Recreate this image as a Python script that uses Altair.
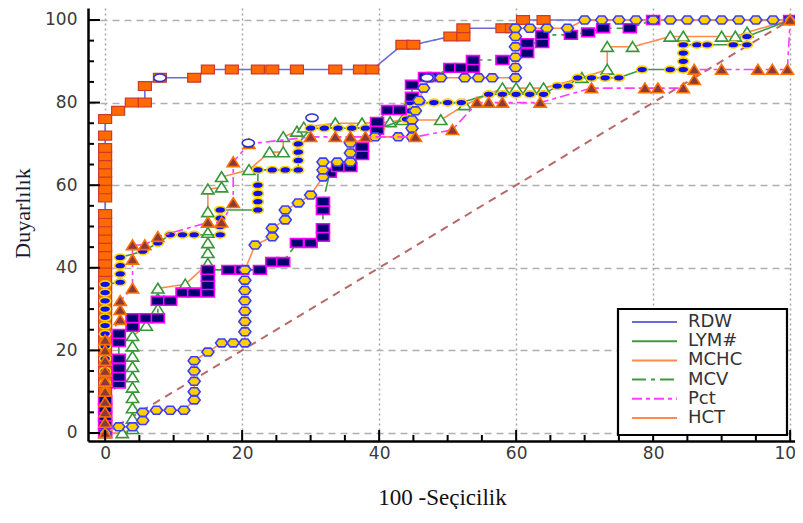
import altair as alt
import pandas as pd

# ---------------- data ----------------
RDW_X = [0, 0, 0, 0, 0, 0, 0, 0, 0, 0, 0, 0, 0, 0, 0, 0, 0, 0, 0, 0, 0, 0, 0, 0, 0,
         0, 0, 0, 0, 0, 0, 0, 0, 0,
         1.9, 3.9, 5.8, 5.8, 8, 13, 15, 18.5, 22.3, 24.4, 28, 33.6, 37.2, 39, 43.4, 45,
         50.4, 52.3, 52.3, 58, 59.4, 61, 64, 100]
RDW_Y = [0, 2.5, 5, 7.5, 10, 12.5, 15, 17.5, 20, 22.5, 25, 27, 29, 31, 33, 35, 37, 39, 41, 43, 45, 47, 49, 51, 53,
         57, 59, 61, 63, 65, 67, 69, 72, 76,
         78, 80, 80, 84, 86, 86, 88, 88, 88, 88, 88, 88, 88, 88, 94, 94,
         96, 96, 98, 98, 98, 100, 100, 100]

LYM_X = [0, 0, 0, 0, 0, 0, 0, 0, 0, 0, 0, 0, 0, 0, 0,
         2.2, 2.2, 2.2, 2.2,
         5.5, 7.7, 9.5, 11.3, 13,
         16.8, 16.8, 16.8, 16.8,
         22.3, 22.3, 22.3, 22.3, 22.3,
         24.4, 26.3, 28.2, 28.2, 28.2, 28.2,
         30, 32, 34, 36, 38, 40,
         44, 44.5, 44.5,
         46, 48, 50, 52,
         56, 58, 60, 62, 64,
         66, 67.6,
         69, 71, 73, 75,
         78.4, 82.5, 84.4, 84.4, 84.4, 84.4,
         86.4, 87.9, 91.7, 93.7, 93.7,
         100]
LYM_Y = [0, 3, 6, 9, 12, 15, 18, 21, 24, 26, 28, 30, 32, 34, 36,
         36.5, 38.5, 40.5, 42.5,
         44, 46, 48, 48, 48,
         48, 50, 52, 54,
         54, 56, 58, 60, 63.7,
         63.7, 63.7, 63.7, 66, 68, 70,
         73.8, 73.8, 73.8, 73.8, 73.8, 73.8,
         76, 78, 80,
         80, 80, 80, 80,
         82, 82, 82, 82, 82,
         84, 84,
         86, 86, 86, 86,
         88, 88, 88, 90, 92, 94,
         94, 94, 94, 94, 96,
         100]

MCHC_X = [0, 2.5, 4, 4, 4, 4, 4, 4, 4, 4, 4, 4,
          6, 7.7, 7.7, 7.7,
          11.7,
          15, 15, 15, 15, 15, 15,
          15, 17, 17,
          21,
          24, 26, 26,
          28, 29,
          33.6, 37.5, 41.6, 43.4, 49,
          52.5,
          58, 60, 62, 64,
          69.6,
          73.3, 73.3, 77,
          82.5, 84.4, 90, 92, 93.7,
          100]
MCHC_Y = [0, 0, 1, 3.5, 6, 8.5, 11, 13.5, 16, 18.5, 21, 23.5,
          26, 30, 32.5, 35,
          36,
          41, 43.6, 46, 48.5, 51, 53.5,
          59, 59.5, 62,
          63.7,
          68, 68, 71.7,
          73, 74,
          75, 75, 75.3, 75.8, 75.8,
          79.4,
          83.5, 83.5, 83.5, 83.5,
          86,
          88, 93.5, 93.5,
          96, 96, 96, 96, 97,
          100]

MCV_X = [0, 0, 0, 0, 0,
         2, 2, 2, 2, 2, 2,
         4, 4, 6, 7.7,
         7.7, 9.5,
         11.3, 13, 15, 15, 15, 15,
         18, 20, 22.6,
         24.4, 26,
         28, 30,
         31.8, 31.8, 31.8, 31.8,
         32.8, 34, 35.8,
         37.5, 37.5,
         39.7, 39.7,
         41.3, 43,
         44.8, 44.8,
         46.7, 47.9,
         50.4, 52, 53.7, 53.7,
         58,
         61.6, 61.6,
         63.8, 63.8,
         68, 70.5,
         72.7, 76.6,
         80, 100]
MCV_Y = [0, 2, 4, 6, 8,
         12, 13.6, 15.7, 18, 22, 24,
         25.7, 27.8, 27.8, 27.8,
         32, 32,
         34, 34, 34, 35.8, 37.8, 39.5,
         39.5, 39.5, 39.5,
         41.4, 41.4,
         46, 46,
         47.5, 49.6, 54, 56,
         63, 64.4, 64.4,
         67.3, 69.3,
         73.4, 75.3,
         78.2, 78.2,
         81.4, 84.3,
         86.2, 86.2,
         88.4, 88.4, 88.4, 90.3,
         90.3,
         92, 94.4,
         94.4, 96.4,
         96.4, 97,
         98, 98,
         100, 100]

PCT_X = [0, 0, 0, 0, 0, 0, 0, 0, 0, 0,
         2.2, 2.2, 2.2,
         4, 4, 4,
         5.8, 7.7,
         15, 17,
         18.7, 18.7,
         21,
         30, 33.6, 35.8, 38,
         45.3,
         50.7,
         54.3, 56, 58, 63.5,
         71, 78.8, 80.7, 84.4,
         86, 86,
         90, 95.3, 97.4, 99.6,
         100]
PCT_Y = [0, 2.5, 5, 7.5, 10, 12.5, 15, 17.5, 20, 22.5,
         27.4, 29.8, 32,
         35, 42, 45.5,
         45.5, 47.5,
         51, 51,
         55.7, 65.6,
         70,
         71.7, 71.7, 71.7, 71.7,
         71.7,
         73.4,
         80, 80, 80, 80,
         83.5, 83.5, 83.5, 83.5,
         85.5, 88,
         88, 88, 88, 88,
         100]

HCT_X = [0, 2, 4, 5.5, 5.5, 7.5, 9.5, 11.5,
         13, 13, 13, 13, 13,
         15, 17, 18.7,
         20.4, 20.4, 20.4, 20.4, 20.4, 20.4, 20.4, 20.4,
         21.9, 24.4, 24.4,
         26.3, 26.3, 28.2, 30,
         31.8, 31.8, 31.8,
         33.9, 35.8, 35.8, 35.8,
         39.4, 42.8,
         44.8, 44.8, 44.8,
         45.3, 45.8, 46.5,
         47.4, 49, 52.5, 54.5, 56.5,
         59.9, 59.9, 59.9, 59.9, 59.9, 59.9,
         62, 64.5, 67.5,
         70, 72.5, 75, 77.5, 80, 82.5, 85, 87.5, 90, 92.5, 95, 97.5, 100]
HCT_Y = [0, 1.5, 1.5, 3, 5, 5.5, 5.5, 5.5,
         8, 10, 12.5, 15, 17.5,
         19.6, 21.8, 21.8,
         21.8, 24.5, 27, 29.5, 32, 34.5, 37, 39.5,
         45.5, 47.5, 49.6,
         51.6, 54, 55.7, 57.6,
         62, 63.7, 65.6,
         65.6, 65.6, 67.8, 70.2,
         71.7, 71.7,
         71.7, 73.8, 75.8,
         78, 80.5, 83.5,
         86, 86, 86, 86, 86,
         86, 88.5, 91, 93.5, 96, 98,
         98, 98, 98,
         100, 100, 100, 100, 100, 100, 100, 100, 100, 100, 100, 100, 100]

CIRC_X = [8, 20.9, 30.2, 47]
CIRC_Y = [86, 70.2, 76.3, 86]

DIAG_X = [0, 100]
DIAG_Y = [0, 100]

X_MAJOR = [0, 20, 40, 60, 80, 100]
X_MINOR = [5, 10, 15, 25, 30, 35, 45, 50, 55, 65, 70, 75, 85, 90, 95]
Y_MAJOR = [0, 20, 40, 60, 80, 100]
Y_MINOR = [5, 10, 15, 25, 30, 35, 45, 50, 55, 65, 70, 75, 85, 90, 95]

LEGEND_NAMES = ["RDW", "LYM#", "MCHC", "MCV", "Pct", "HCT"]

# ---------------- styling ----------------
W, H = 707, 433
xs = alt.Scale(domain=[-2.5, 100.71], nice=False, zero=False)
ys = alt.Scale(domain=[-1.94, 102.9], nice=False, zero=False)

RECT = "M-1,-0.68L1,-0.68L1,0.68L-1,0.68Z"
ELL = "M-1,0A1,0.62,0,1,1,1,0A1,0.62,0,1,1,-1,0Z"
HEX = "M-1,0L-0.5,-0.66L0.5,-0.66L1,0L0.5,0.66L-0.5,0.66Z"
TRI = "M0,-0.85L1,0.75L-1,0.75Z"

STYLE = {
    "RDW": dict(line="#6b6bd6", dash=[1, 0], shape=RECT, size=169, fill="#ff6a00", stroke="#cc3a2a", sw=1.2),
    "LYM#": dict(line="#3f9a3f", dash=[1, 0], shape=ELL, size=121, fill="#1010ee", stroke="#ffd400", sw=1.6),
    "MCHC": dict(line="#ff8a50", dash=[1, 0], shape=TRI, size=150, fill="#ffffff", stroke="#3a963a", sw=1.6),
    "MCV": dict(line="#3f9a3f", dash=[14, 5, 4, 5], shape=RECT, size=169, fill="#000070", stroke="#ff00ff", sw=1.6),
    "Pct": dict(line="#ff3cff", dash=[10, 4, 4, 4], shape=TRI, size=150, fill="#8b3a3a", stroke="#ff7000", sw=1.6),
    "HCT": dict(line="#ff8a50", dash=[1, 0], shape=HEX, size=144, fill="#ffd000", stroke="#3c3cff", sw=1.6),
}
SERIES = {
    "RDW": (RDW_X, RDW_Y),
    "LYM#": (LYM_X, LYM_Y),
    "MCHC": (MCHC_X, MCHC_Y),
    "MCV": (MCV_X, MCV_Y),
    "Pct": (PCT_X, PCT_Y),
    "HCT": (HCT_X, HCT_Y),
}
DRAW_ORDER = ["RDW", "MCHC", "LYM#", "MCV", "HCT", "Pct"]


def frame(xv, yv):
    return pd.DataFrame({"x": xv, "y": yv, "i": list(range(len(xv)))})


x_axis = alt.Axis(
    values=X_MAJOR, ticks=False, tickSize=0, domainColor="black", domainWidth=2.5,
    grid=True, gridColor="#a6a6a6", gridDash=[2, 3], gridWidth=1.5,
    labelFont="DejaVu Sans", labelFontSize=17, labelColor="#3a3a3a", labelPadding=4,
    labelFlush=False, labelOverlap=False,
    title="100 -Seçicilik", titleFont="Liberation Serif", titleFontSize=23,
    titleFontWeight="normal", titleColor="#111111", titleX=354, titleY=56,
    titleBaseline="middle", titleAlign="center")
y_axis = alt.Axis(
    values=Y_MAJOR, ticks=False, tickSize=0, domainColor="black", domainWidth=2.5,
    grid=True, gridColor="#b0b0b0", gridDash=[7, 5], gridWidth=1.5,
    labelFont="DejaVu Sans", labelFontSize=17, labelColor="#3a3a3a", labelPadding=11,
    labelFlush=False, labelOverlap=False,
    title="Duyarlılık", titleFont="Liberation Serif", titleFontSize=22,
    titleFontWeight="normal", titleColor="#1a1a2e", titleX=-66, titleY=205,
    titleBaseline="middle", titleAlign="center", titleAngle=270)


def X(field):
    return alt.X(field, scale=xs, axis=x_axis)


def Y(field):
    return alt.Y(field, scale=ys, axis=y_axis)


layers = []

# diagonal reference line
layers.append(
    alt.Chart(frame(DIAG_X, DIAG_Y)).mark_line(color="#b86a6a", strokeWidth=2, strokeDash=[8, 6]).encode(
        x=X("x:Q"), y=Y("y:Q"), order="i:Q")
)

for name in DRAW_ORDER:
    st = STYLE[name]
    xv, yv = SERIES[name]
    base = alt.Chart(frame(xv, yv)).encode(x=X("x:Q"), y=Y("y:Q"), order="i:Q")
    layers.append(base.mark_line(color=st["line"], strokeWidth=1.6, strokeDash=st["dash"]))
    layers.append(base.mark_point(shape=st["shape"], size=st["size"], filled=True, fill=st["fill"],
                                  stroke=st["stroke"], strokeWidth=st["sw"], opacity=1))

# open criterion circles
layers.append(
    alt.Chart(frame(CIRC_X, CIRC_Y)).mark_point(shape=ELL, size=150, filled=True, fill="#ffffff",
                                                 stroke="#3333cc", strokeWidth=1.6, opacity=1).encode(
        x=X("x:Q"), y=Y("y:Q"))
)

# inward ticks
for vals, ln in ((X_MAJOR, 11), (X_MINOR, 6)):
    layers.append(
        alt.Chart(pd.DataFrame({"x": vals})).mark_rule(color="black", strokeWidth=2).encode(
            x=X("x:Q"), y=alt.value(H), y2=alt.value(H - ln))
    )
for vals, ln in ((Y_MAJOR, 12), (Y_MINOR, 6)):
    layers.append(
        alt.Chart(pd.DataFrame({"y": vals})).mark_rule(color="black", strokeWidth=2).encode(
            y=Y("y:Q"), x=alt.value(0), x2=alt.value(ln))
    )

# legend box
one = pd.DataFrame({"a": [0]})
layers.append(
    alt.Chart(one).mark_rect(fill="white", stroke="black", strokeWidth=2.2).encode(
        x=alt.value(530), x2=alt.value(699), y=alt.value(301), y2=alt.value(427))
)
for k, name in enumerate(LEGEND_NAMES):
    st = STYLE[name]
    yy = 314 + k * 19.2
    layers.append(
        alt.Chart(one).mark_rule(color=st["line"], strokeWidth=2, strokeDash=st["dash"]).encode(
            x=alt.value(544), x2=alt.value(589), y=alt.value(yy))
    )
    layers.append(
        alt.Chart(one).mark_text(text=name, align="left", baseline="middle", font="DejaVu Sans",
                                 fontSize=18, color="#333333").encode(
            x=alt.value(600), y=alt.value(yy))
    )

chart = alt.layer(*layers).properties(
    width=W, height=H,
    autosize=alt.AutoSizeParams(type="none"),
    padding={"left": 80, "top": 0, "right": 0, "bottom": 68},
).configure_view(strokeWidth=0)

chart.save("out.html", embed_options={"renderer": "svg", "actions": False})
